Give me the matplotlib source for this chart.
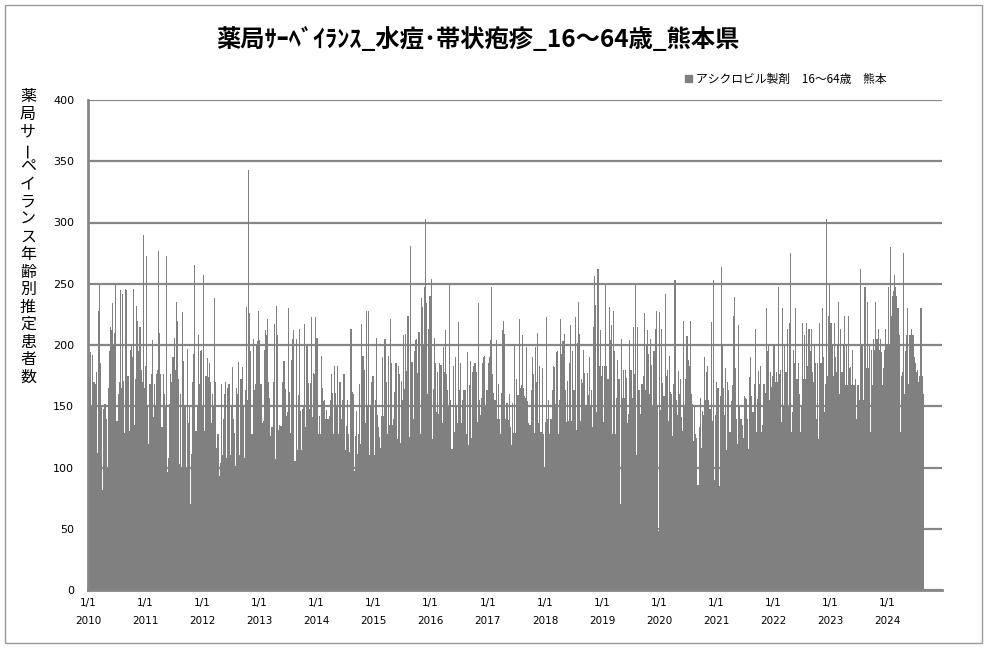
import datetime as dt
import matplotlib
matplotlib.use('Agg')
import matplotlib.pyplot as plt
import matplotlib.dates as mdates
from matplotlib.patches import Patch, Rectangle

# weekly estimated patients (one list per year)
v2010 = [114, 174, 194, 150, 192, 170, 168, 178, 112, 228, 249, 185, 150, 82, 148, 152, 140, 100, 165, 195,
         215, 212, 234, 200, 210, 250, 138, 160, 170, 245, 165, 242, 171, 128, 246, 245, 175, 130, 196, 200,
         190, 246, 135, 172, 232, 220, 195, 215, 180, 170, 290, 165]
v2011 = [183, 273, 150, 119, 168, 176, 204, 141, 168, 150, 176, 180, 277, 210, 176, 133, 176, 160, 150, 273,
         96, 108, 152, 176, 170, 190, 206, 180, 235, 220, 172, 103, 160, 100, 227, 187, 150, 99, 197, 136,
         150, 70, 111, 170, 193, 265, 130, 150, 208, 168, 195, 196]
v2012 = [150, 257, 130, 175, 189, 174, 185, 170, 136, 160, 150, 238, 170, 116, 127, 93, 104, 168, 110, 140,
         160, 170, 108, 165, 168, 110, 150, 182, 140, 128, 101, 165, 160, 186, 110, 172, 182, 150, 108, 163,
         231, 155, 343, 226, 195, 127, 205, 163, 168, 200, 203, 228]
v2013 = [204, 168, 136, 138, 196, 212, 208, 221, 170, 157, 126, 133, 170, 217, 107, 232, 208, 131, 135, 134,
         134, 170, 187, 164, 142, 145, 230, 162, 128, 188, 205, 212, 105, 205, 114, 159, 213, 146, 114, 148,
         149, 217, 133, 201, 169, 148, 169, 223, 141, 177, 176, 223]
v2014 = [206, 127, 142, 127, 191, 165, 154, 155, 140, 147, 140, 142, 155, 176, 161, 127, 183, 161, 149, 183,
         127, 170, 140, 155, 176, 176, 114, 134, 155, 127, 113, 213, 162, 160, 97, 126, 146, 111, 127, 168,
         119, 217, 191, 180, 136, 228, 150, 228, 110, 150, 170, 175]
v2015 = [110, 155, 206, 143, 133, 125, 116, 142, 190, 142, 205, 170, 127, 191, 135, 221, 185, 135, 140, 162,
         185, 123, 183, 176, 120, 171, 155, 208, 164, 209, 179, 224, 125, 281, 186, 186, 140, 195, 204, 205,
         177, 211, 127, 238, 231, 200, 247, 303, 234, 160, 213, 240]
v2016 = [254, 123, 164, 206, 185, 145, 178, 144, 185, 184, 136, 198, 178, 212, 176, 163, 150, 251, 155, 115,
         183, 129, 190, 150, 136, 219, 163, 185, 136, 155, 163, 163, 127, 194, 118, 167, 187, 124, 178, 183,
         185, 178, 137, 234, 155, 143, 157, 185, 190, 191, 150, 163]
v2017 = [185, 190, 204, 247, 176, 161, 155, 204, 140, 168, 140, 127, 161, 212, 220, 209, 140, 153, 139, 160,
         133, 118, 153, 128, 201, 128, 172, 159, 221, 165, 167, 208, 165, 158, 157, 198, 154, 136, 135, 163,
         190, 176, 128, 198, 170, 210, 136, 183, 129, 181, 127, 99]
v2018 = [137, 223, 140, 155, 127, 140, 163, 183, 182, 152, 194, 195, 127, 155, 221, 193, 203, 209, 163, 137,
         171, 138, 185, 216, 138, 195, 163, 223, 131, 202, 235, 209, 138, 172, 169, 196, 177, 151, 177, 159,
         190, 151, 163, 133, 215, 256, 233, 145, 262, 183, 212, 175]
v2019 = [183, 137, 183, 249, 183, 172, 231, 204, 216, 127, 228, 195, 127, 157, 188, 172, 70, 205, 157, 180,
         157, 180, 173, 136, 144, 204, 180, 157, 215, 176, 249, 110, 215, 163, 163, 144, 168, 175, 226, 163,
         199, 212, 193, 160, 205, 184, 150, 195, 213, 228, 150, 48]
v2020 = [227, 147, 213, 169, 158, 242, 175, 180, 138, 191, 162, 160, 126, 168, 253, 155, 143, 179, 160, 172,
         141, 130, 220, 149, 172, 207, 188, 183, 220, 160, 152, 122, 150, 127, 124, 86, 133, 157, 116, 146,
         143, 190, 155, 178, 183, 155, 148, 219, 138, 253, 90, 143]
v2021 = [170, 165, 85, 158, 264, 200, 165, 143, 181, 114, 170, 163, 129, 154, 167, 224, 239, 181, 140, 119,
         216, 150, 140, 135, 124, 158, 157, 156, 140, 115, 174, 190, 158, 145, 168, 213, 129, 156, 179, 168,
         183, 129, 135, 168, 161, 230, 195, 200, 155, 178, 166, 175]
v2022 = [201, 170, 178, 170, 247, 176, 180, 137, 230, 150, 201, 178, 213, 150, 218, 275, 129, 145, 196, 185,
         230, 172, 185, 160, 129, 150, 218, 172, 208, 172, 218, 183, 213, 195, 213, 178, 170, 201, 185, 140,
         185, 123, 218, 185, 230, 190, 145, 168, 303, 175, 224, 251]
v2023 = [218, 201, 175, 218, 190, 178, 201, 235, 160, 213, 178, 201, 224, 167, 201, 167, 224, 181, 182, 167,
         196, 167, 172, 140, 167, 167, 155, 262, 201, 201, 155, 247, 181, 235, 181, 201, 129, 196, 167, 205,
         196, 235, 205, 213, 196, 205, 194, 167, 181, 196, 213, 201]
v2024 = [247, 200, 280, 224, 240, 244, 257, 247, 240, 230, 208, 129, 175, 178, 275, 160, 195, 208, 230, 168,
         208, 213, 208, 208, 190, 185, 178, 180, 170, 175, 230, 175, 160]

years = list(range(2010, 2025))
series = [v2010, v2011, v2012, v2013, v2014, v2015, v2016, v2017,
          v2018, v2019, v2020, v2021, v2022, v2023, v2024]

# bars start on Jan 1 of each year, 7 days apart; last bar of a year runs to the next Jan 1
starts, widths, vals = [], [], []
for yr, vs in zip(years, series):
    y0 = mdates.date2num(dt.date(yr, 1, 1))
    y1 = mdates.date2num(dt.date(yr + 1, 1, 1))
    for i, v in enumerate(vs):
        s = y0 + 7 * i
        w = 7 if (i < len(vs) - 1 or yr == years[-1]) else y1 - s
        starts.append(s)
        widths.append(w)
        vals.append(v)

title = '薬局ｻｰﾍﾞｲﾗﾝｽ_水痘･帯状疱疹_16～64歳_熊本県'
ylabel = '薬局サーペイランス年齢別推定患者数'
legend_label = 'アシクロビル製剤　16～64歳　熊本'
jp = ['Noto Sans CJK JP', 'DejaVu Sans']

W, H = 987, 648
fig = plt.figure(figsize=(W / 100, H / 100), dpi=100)
ax = fig.add_axes([88 / W, 1 - 590 / H, (942 - 88) / W, (590 - 100) / H])

bar_col = '#808080'
grid_col = '#868686'
ax.bar(starts, vals, width=widths, align='edge', color=bar_col,
       linewidth=0, antialiased=False, zorder=2)

ax.set_ylim(0, 400)
ax.set_yticks(range(0, 401, 50))
ax.set_xlim(mdates.date2num(dt.date(2010, 1, 1)), mdates.date2num(dt.date(2024, 12, 14)))
ax.yaxis.grid(True, color=grid_col, linewidth=1.6)
ax.set_axisbelow(True)

xt = [mdates.date2num(dt.date(y, 1, 1)) for y in years]
ax.set_xticks(xt)
ax.set_xticklabels([f'1/1\n{y}' for y in years], linespacing=1.9)
ax.tick_params(axis='x', direction='in', length=3, color=grid_col, labelsize=7.5, pad=6)
ax.tick_params(axis='y', length=0, labelsize=8, pad=10)

for s in ['top', 'right']:
    ax.spines[s].set_visible(False)
for s in ['left', 'bottom']:
    ax.spines[s].set_color(grid_col)
    ax.spines[s].set_linewidth(2)

fig.text(478 / W, 1 - 40 / H, title, ha='center', va='center', fontsize=17.5,
         fontweight='bold', family=jp)

# vertical, one character per line
for i, ch in enumerate(ylabel):
    fig.text(28 / W, 1 - (97 + 17.5 * i) / H, ch, ha='center', va='center',
             fontsize=11.5, family=jp, rotation=90 if ch == 'ー' else 0,
             rotation_mode='anchor')

fig.legend(handles=[Patch(color=bar_col, label=legend_label)],
           loc='center left', bbox_to_anchor=(685 / W, 1 - 79 / H),
           frameon=False, handlelength=0.6, handleheight=0.6,
           handletextpad=0.3, borderaxespad=0, borderpad=0,
           prop={'family': jp, 'size': 8.5})

fig.patches.append(Rectangle((5 / W, 5 / H), 977 / W, 638 / H, transform=fig.transFigure,
                             fill=False, edgecolor='#999999', linewidth=1))

fig.savefig('out.png', dpi=100)
